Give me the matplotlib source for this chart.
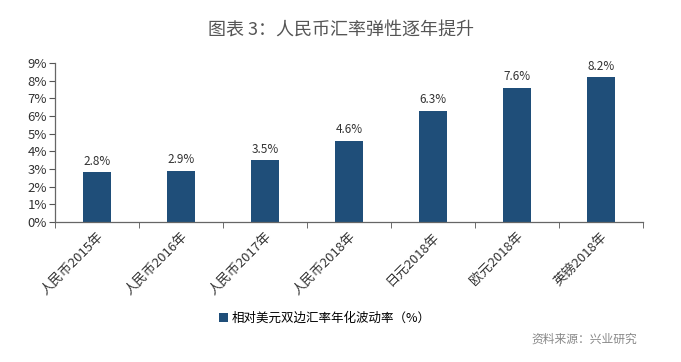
import matplotlib
matplotlib.use('Agg')
import matplotlib.pyplot as plt
import numpy as np

plt.rcParams['font.family'] = ['Noto Sans CJK SC', 'DejaVu Sans']

# data
categories = ['人民币2015年', '人民币2016年', '人民币2017年', '人民币2018年', '日元2018年', '欧元2018年', '英镑2018年']
volatility = [2.8, 2.9, 3.5, 4.6, 6.3, 7.6, 8.2]
yticks = list(range(0, 10))

bar_color = '#1f4e79'

fig = plt.figure(figsize=(6.81, 3.62), dpi=100)
ax = fig.add_axes([0.081, 0.387, 0.863, 0.439])

x = np.arange(len(categories))
ax.bar(x, volatility, width=0.33, color=bar_color, label='相对美元双边汇率年化波动率（%）')

for xi, v in zip(x, volatility):
    ax.text(xi, v + 0.25, f'{v:.1f}%', ha='center', va='bottom', fontsize=8.5, color='#333333')

ax.set_xlim(-0.5, len(categories) - 0.5)
ax.set_ylim(0, 9)
ax.set_yticks(yticks)
ax.set_yticklabels([f'{t}%' for t in yticks], fontsize=9.5, color='#333333')

ax.set_xticks(x)
ax.set_xticklabels(categories, rotation=45, ha='right', rotation_mode='anchor', fontsize=9.5, color='#333333')
ax.tick_params(axis='x', length=0, pad=6)
# separator ticks between categories
ax.set_xticks(np.arange(-0.5, len(categories)), minor=True)
ax.tick_params(axis='x', which='minor', length=4, color='#555555')
ax.tick_params(axis='y', length=4, color='#555555', pad=2)

for side in ['top', 'right']:
    ax.spines[side].set_visible(False)
for side in ['left', 'bottom']:
    ax.spines[side].set_color('#666666')
    ax.spines[side].set_linewidth(0.9)

fig.text(0.5, 0.915, '图表 3：人民币汇率弹性逐年提升', ha='center', va='center', fontsize=13, color='#555555')

fig.legend(loc='center left', bbox_to_anchor=(0.305, 0.12), frameon=False, fontsize=9,
           handlelength=0.7, handleheight=0.7, handletextpad=0.3)

fig.text(0.935, 0.062, '资料来源：兴业研究', ha='right', va='center', fontsize=8.5, color='#888888')

fig.savefig('out.png', dpi=100, facecolor='white')
